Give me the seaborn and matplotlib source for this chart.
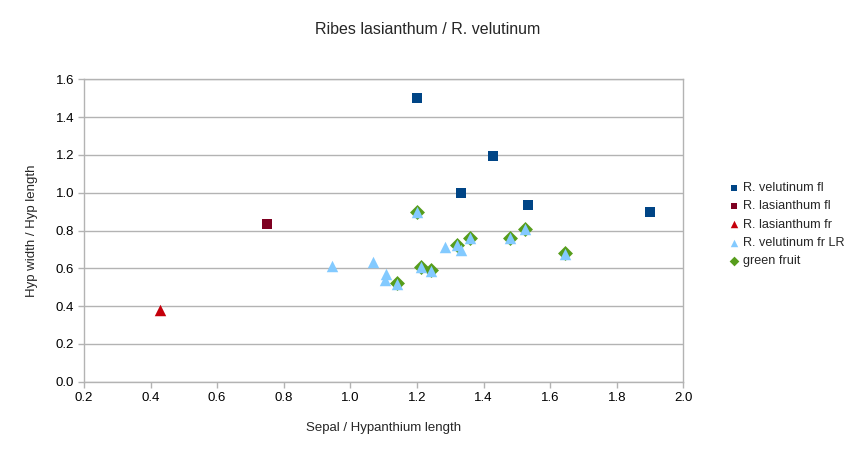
import matplotlib
matplotlib.use("Agg")
import matplotlib.pyplot as plt
import seaborn as sns
import pandas as pd

# ---- data ----
vel_fl_x = [1.200, 1.428, 1.333, 1.533, 1.900]
vel_fl_y = [1.500, 1.193, 0.999, 0.934, 0.900]
las_fl_x = [0.750]
las_fl_y = [0.835]
las_fr_x = [0.429]
las_fr_y = [0.380]
vel_fr_x = [0.945, 1.067, 1.108, 1.103, 1.139, 1.199, 1.212, 1.242, 1.285,
            1.319, 1.332, 1.360, 1.479, 1.524, 1.644]
vel_fr_y = [0.613, 0.634, 0.570, 0.539, 0.519, 0.897, 0.606, 0.588, 0.712,
            0.722, 0.697, 0.759, 0.759, 0.807, 0.677]
green_x = [1.199, 1.212, 1.242, 1.139, 1.319, 1.360, 1.479, 1.524, 1.644]
green_y = [0.900, 0.608, 0.590, 0.520, 0.726, 0.762, 0.762, 0.810, 0.679]

series_names = ["R. velutinum fl", "R. lasianthum fl", "R. lasianthum fr",
                "R. velutinum fr LR", "green fruit"]
x_ticks = [0.2, 0.4, 0.6, 0.8, 1.0, 1.2, 1.4, 1.6, 1.8, 2.0]
y_ticks = [0.0, 0.2, 0.4, 0.6, 0.8, 1.0, 1.2, 1.4, 1.6]

sns.set_theme(style="white")
plt.rcParams['font.family'] = ['Liberation Sans', 'DejaVu Sans']

fig = plt.figure(figsize=(8.6, 4.55), dpi=100)
ax = fig.add_axes([84 / 860, 1 - 381.8 / 455, (683.3 - 84) / 860, (381.8 - 79.3) / 455])

styles = {
    "R. velutinum fl": dict(x=vel_fl_x, y=vel_fl_y, color="#004586", marker="s", s=54, z=3),
    "R. lasianthum fl": dict(x=las_fl_x, y=las_fl_y, color="#7e0021", marker="s", s=54, z=3),
    "R. lasianthum fr": dict(x=las_fr_x, y=las_fr_y, color="#c5000b", marker="^", s=68, z=3),
    "green fruit": dict(x=green_x, y=green_y, color="#579d1c", marker="D", s=58, z=3),
    "R. velutinum fr LR": dict(x=vel_fr_x, y=vel_fr_y, color="#83caff", marker="^", s=68, z=4),
}
for name in ["R. velutinum fl", "R. lasianthum fl", "R. lasianthum fr", "green fruit", "R. velutinum fr LR"]:
    st = styles[name]
    df = pd.DataFrame({"x": st["x"], "y": st["y"]})
    sns.scatterplot(data=df, x="x", y="y", ax=ax, color=st["color"], marker=st["marker"],
                    s=st["s"], linewidth=0, zorder=st["z"], label=name)

ax.set_xlim(0.2, 2.0)
ax.set_ylim(0.0, 1.6)
ax.set_xticks(x_ticks)
ax.set_yticks(y_ticks)
ax.set_xticklabels([f"{v:.1f}" for v in x_ticks])
ax.set_yticklabels([f"{v:.1f}" for v in y_ticks])
ax.yaxis.grid(True, color="#b3b3b3", linewidth=1)
ax.xaxis.grid(False)
for sp in ax.spines.values():
    sp.set_color("#b3b3b3")
    sp.set_linewidth(1)
ax.tick_params(axis="both", which="both", direction="out", length=4, width=1,
               color="#b3b3b3", labelsize=9.5, labelcolor="black", pad=3,
               bottom=True, left=True)
ax.set_xlabel("Sepal / Hypanthium length", fontsize=9.5, labelpad=13)
ax.set_ylabel("Hyp width / Hyp length", fontsize=9.5, labelpad=13)
fig.text(428 / 860, 1 - 29 / 455, "Ribes lasianthum / R. velutinum",
         ha="center", va="center", fontsize=11.5)

h, l = ax.get_legend_handles_labels()
hd = dict(zip(l, h))
leg = ax.legend([hd[n] for n in series_names], series_names,
                loc="upper left", bbox_to_anchor=(730 / 860, 1 - 182 / 455),
                bbox_transform=fig.transFigure, frameon=False, fontsize=9.1,
                markerscale=0.65, handlelength=0.6, handletextpad=0.4,
                labelspacing=0.5, borderpad=0, borderaxespad=0)

fig.savefig("out.png", dpi=100)
